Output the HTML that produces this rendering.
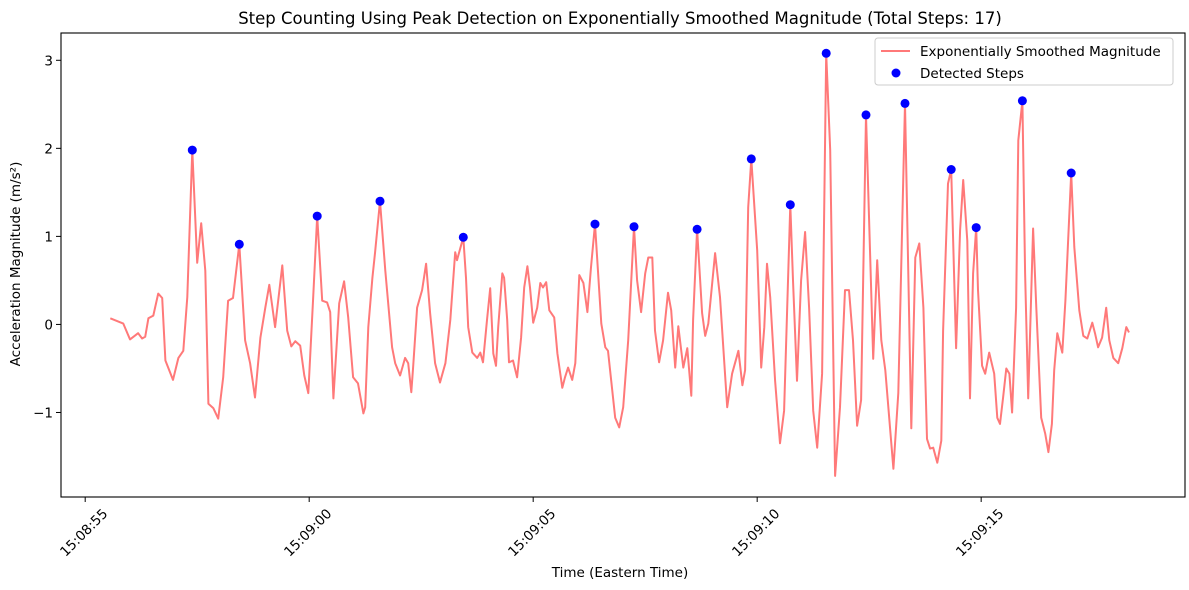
<!DOCTYPE html>
<html><head><meta charset="utf-8">
<style>
html,body{margin:0;padding:0;background:#fff;}
svg{display:block;font-family:"DejaVu Sans","Liberation Sans",sans-serif;}
</style></head>
<body>
<svg id="chart" width="1189" height="590" viewBox="0 0 1189 590" xmlns="http://www.w3.org/2000/svg">
<rect width="1189" height="590" fill="#fff"/>
<text x="620" y="24" font-size="16.5" text-anchor="middle" fill="#000">Step Counting Using Peak Detection on Exponentially Smoothed Magnitude (Total Steps: 17)</text>
<g id="plot"></g>
<rect x="61" y="33" width="1124" height="464" fill="none" stroke="#000" stroke-width="1.1"/>
<text x="620" y="577" font-size="13.5" text-anchor="middle">Time (Eastern Time)</text>
<text transform="translate(20,264) rotate(-90)" font-size="13.5" text-anchor="middle">Acceleration Magnitude (m/s²)</text>
<g>
<rect x="875" y="38" width="298" height="47" rx="3" fill="#fff" fill-opacity="0.8" stroke="#ccc"/>
<line x1="881" y1="51" x2="910" y2="51" stroke="#ff4040" stroke-opacity="0.7" stroke-width="2"/>
<text x="920" y="56" font-size="13.5">Exponentially Smoothed Magnitude</text>
<circle cx="896" cy="73" r="4.5" fill="#0000ff"/>
<text x="920" y="78" font-size="13.5">Detected Steps</text>
</g>
</svg>
<script>
const seriesT = [0.56,0.85,1.00,1.18,1.27,1.34,1.41,1.52,1.63,1.72,1.79,1.96,2.08,2.19,2.28,2.39,2.50,2.59,2.68,2.75,2.86,2.97,3.08,3.19,3.30,3.44,3.57,3.68,3.79,3.91,4.02,4.11,4.24,4.40,4.51,4.60,4.69,4.80,4.89,4.98,5.09,5.18,5.29,5.40,5.47,5.54,5.67,5.78,5.87,5.98,6.09,6.21,6.25,6.32,6.41,6.47,6.58,6.70,6.85,6.92,7.03,7.14,7.21,7.28,7.32,7.41,7.52,7.61,7.70,7.81,7.92,8.04,8.15,8.26,8.30,8.44,8.50,8.55,8.64,8.75,8.82,8.88,8.97,9.04,9.11,9.17,9.22,9.31,9.35,9.42,9.46,9.55,9.64,9.73,9.80,9.87,9.93,10.00,10.09,10.16,10.22,10.29,10.36,10.47,10.54,10.65,10.71,10.78,10.87,10.94,11.03,11.12,11.21,11.29,11.38,11.52,11.61,11.67,11.83,11.92,12.01,12.12,12.25,12.32,12.41,12.50,12.57,12.66,12.72,12.81,12.90,13.01,13.08,13.17,13.24,13.35,13.44,13.53,13.57,13.66,13.77,13.84,13.91,14.06,14.17,14.33,14.44,14.58,14.67,14.73,14.80,14.87,15.00,15.09,15.16,15.22,15.29,15.40,15.51,15.60,15.74,15.80,15.89,15.98,16.07,16.16,16.25,16.34,16.45,16.54,16.63,16.74,16.85,16.96,17.05,17.14,17.23,17.32,17.43,17.59,17.68,17.77,17.86,18.04,18.15,18.30,18.44,18.53,18.62,18.71,18.79,18.86,18.93,19.02,19.11,19.15,19.26,19.33,19.44,19.53,19.60,19.69,19.75,19.82,19.89,19.93,20.02,20.09,20.18,20.29,20.36,20.42,20.49,20.56,20.63,20.69,20.78,20.83,20.92,20.98,21.05,21.16,21.23,21.34,21.43,21.50,21.58,21.63,21.70,21.81,21.88,22.01,22.08,22.19,22.28,22.37,22.48,22.54,22.61,22.70,22.79,22.86,22.95,23.06,23.15,23.24,23.30];
const seriesV = [0.07,0.01,-0.17,-0.10,-0.16,-0.14,0.07,0.10,0.35,0.30,-0.41,-0.63,-0.38,-0.30,0.31,1.98,0.70,1.15,0.61,-0.90,-0.95,-1.07,-0.60,0.27,0.30,0.91,-0.18,-0.44,-0.83,-0.15,0.19,0.45,-0.03,0.67,-0.07,-0.25,-0.19,-0.24,-0.58,-0.78,0.31,1.23,0.27,0.25,0.14,-0.84,0.24,0.49,0.08,-0.60,-0.67,-1.01,-0.94,-0.03,0.53,0.81,1.40,0.61,-0.26,-0.44,-0.58,-0.38,-0.44,-0.77,-0.49,0.19,0.39,0.69,0.13,-0.44,-0.66,-0.44,0.05,0.82,0.73,0.99,0.53,-0.03,-0.32,-0.38,-0.32,-0.43,0.05,0.41,-0.33,-0.47,-0.03,0.58,0.53,0.05,-0.43,-0.41,-0.60,-0.15,0.42,0.66,0.42,0.02,0.19,0.47,0.42,0.48,0.16,0.08,-0.33,-0.72,-0.60,-0.49,-0.63,-0.44,0.56,0.47,0.14,0.65,1.14,0.01,-0.26,-0.30,-1.06,-1.17,-0.94,-0.18,1.11,0.50,0.14,0.58,0.76,0.76,-0.07,-0.43,-0.18,0.36,0.16,-0.49,-0.02,-0.49,-0.27,-0.81,0.05,1.08,0.13,-0.13,0.01,0.81,0.31,-0.94,-0.56,-0.30,-0.69,-0.52,1.33,1.88,0.84,-0.49,-0.03,0.69,0.31,-0.64,-1.35,-0.98,1.36,0.50,-0.64,0.50,1.05,0.19,-0.98,-1.40,-0.56,3.08,1.98,-1.72,-0.94,0.39,0.39,-0.18,-1.15,-0.86,2.38,-0.39,0.73,-0.18,-0.52,-1.64,-0.78,2.51,-1.18,0.76,0.92,0.19,-1.30,-1.41,-1.40,-1.57,-1.32,-0.07,1.60,1.76,-0.27,1.07,1.64,0.95,-0.84,0.58,1.10,0.39,-0.47,-0.56,-0.32,-0.56,-1.06,-1.13,-0.83,-0.50,-0.56,-1.00,0.19,2.09,2.54,0.58,-0.84,1.09,0.19,-1.06,-1.24,-1.45,-1.13,-0.52,-0.10,-0.32,0.27,1.72,0.88,0.16,-0.13,-0.16,0.02,-0.10,-0.26,-0.15,0.19,-0.18,-0.38,-0.44,-0.27,-0.03,-0.09];
const stepT = [2.39,3.44,5.18,6.58,8.44,11.38,12.25,13.66,14.87,15.74,16.54,17.43,18.30,19.33,19.89,20.92,22.01];
const stepV = [1.98,0.91,1.23,1.40,0.99,1.14,1.11,1.08,1.88,1.36,3.08,2.38,2.51,1.76,1.10,2.54,1.72];
const xTickSec = [0,5,10,15];
const xTickLabels = ["15:08:55","15:09:00","15:09:05","15:09:10","15:09:15"];
const xTickSecAll = [0,5,10,15,20];
const yTicks = [-1,0,1,2,3];

const NS = "http://www.w3.org/2000/svg";
const X0 = 61, X1 = 1185, Y0 = 33, Y1 = 497;
const tMin = -0.54, tMax = 24.55, vMin = -1.96, vMax = 3.31;
function xs(t){ return X0 + (t - tMin) / (tMax - tMin) * (X1 - X0); }
function ys(v){ return Y1 - (v - vMin) / (vMax - vMin) * (Y1 - Y0); }
const svg = document.getElementById('chart');
const plot = document.getElementById('plot');
function mk(tag, attrs, parent){ const e = document.createElementNS(NS, tag); for (const k in attrs) e.setAttribute(k, attrs[k]); parent.appendChild(e); return e; }

let d = "";
for (let i = 0; i < seriesT.length; i++) d += (i ? "L" : "M") + xs(seriesT[i]).toFixed(1) + "," + ys(seriesV[i]).toFixed(1);
const line = mk('path', {d: d, fill: 'none', stroke: '#ff4040', 'stroke-opacity': 0.7, 'stroke-width': 2, 'stroke-linejoin': 'round'}, plot);



for (let i = 0; i < stepT.length; i++) {
  const c = mk('circle', {cx: xs(stepT[i]).toFixed(1), cy: ys(stepV[i]).toFixed(1), r: 4.5, fill: '#0000ff'}, plot);
  
  
}

for (let i = 0; i < xTickSecAll.length; i++) {
  const x = xs(xTickSecAll[i]);
  const tk = mk('line', {x1: x, y1: Y1, x2: x, y2: Y1 + 5, stroke: '#000', 'stroke-width': 1}, svg);
  
  
  const tx = mk('text', {transform: 'translate(' + (x - 1) + ',533) rotate(-45)', 'font-size': 13.5, 'text-anchor': 'middle', 'dominant-baseline': 'central'}, svg);
  tx.textContent = xTickLabels[i];
  
  
}
for (let i = 0; i < yTicks.length; i++) {
  const y = ys(yTicks[i]);
  const tk = mk('line', {x1: X0 - 5, y1: y, x2: X0, y2: y, stroke: '#000', 'stroke-width': 1}, svg);
  
  
  const tx = mk('text', {x: X0 - 8, y: y + 5, 'font-size': 13.5, 'text-anchor': 'end'}, svg);
  tx.textContent = yTicks[i] < 0 ? '\u2212' + Math.abs(yTicks[i]) : String(yTicks[i]);
  
  
}
</script>
</body></html>
